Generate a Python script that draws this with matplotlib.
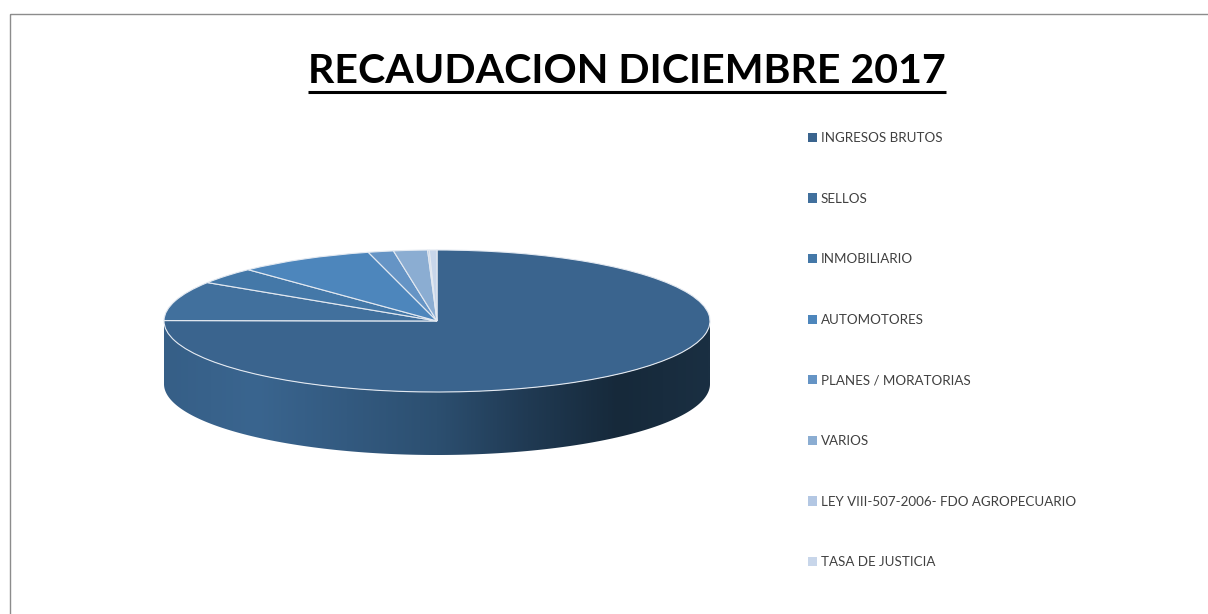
"""Recaudacion diciembre 2017: pie with a fake 3D rim, like the Excel one"""

import matplotlib

matplotlib.use("Agg")
import matplotlib.pyplot as plt
import numpy as np
from matplotlib.colors import LinearSegmentedColormap
from matplotlib.patches import Patch, Polygon, Rectangle

W, H = 1208, 614

title = "RECAUDACION DICIEMBRE 2017"
categories = [
    "INGRESOS BRUTOS",
    "SELLOS",
    "INMOBILIARIO",
    "AUTOMOTORES",
    "PLANES / MORATORIAS",
    "VARIOS",
    "LEY VIII-507-2006- FDO AGROPECUARIO",
    "TASA DE JUSTICIA",
]
values = [75.1, 9.0, 3.75, 8.1, 1.5, 2.0, 0.1, 0.45]
colors = [
    "#3a648e",
    "#41709d",
    "#4478a8",
    "#4d86bc",
    "#6594c5",
    "#8badd2",
    "#b3c7e3",
    "#c8d6ea",
]
rim_colors = ["#365f87", "#3a658f", "#335a80", "#2c4f70", "#203a53", "#16293a", "#1a2f42"]


def main():
    plt.rcParams["font.family"] = ["Lato", "DejaVu Sans"]
    fig = plt.figure(figsize=(W / 100, H / 100), dpi=100, facecolor="white")

    # full size overlay in pixels, for the frame and the title
    bg = fig.add_axes([0, 0, 1, 1])
    bg.set_xlim(0, W)
    bg.set_ylim(H, 0)
    bg.axis("off")
    bg.add_patch(Rectangle((9.5, 13.5), W + 10, H + 10, fill=False, ec="#8c8c8c", lw=1, clip_on=True))
    t = bg.text(627, 71.5, title, fontsize=29.6, fontweight="bold", color="black", ha="center", va="center")
    fig.canvas.draw()
    box = t.get_window_extent().transformed(bg.transData.inverted())
    bg.plot([box.x0, box.x1], [92.3, 92.3], color="black", lw=2.2, solid_capstyle="butt")

    # pie axes: top face is the unit circle squashed, rim hangs under it
    rx, ry, depth = 273, 71, 63
    cx, cy = 437, 321
    left, right = cx - rx, cx + rx
    top, bottom = cy - ry, cy + ry + depth
    ax = fig.add_axes([left / W, 1 - bottom / H, (right - left) / W, (bottom - top) / H])
    d = depth / ry

    theta = np.linspace(np.pi, 2 * np.pi, 300)
    rim_x = np.r_[np.cos(theta), np.cos(theta)[::-1]]
    rim_y = np.r_[np.sin(theta), np.sin(theta)[::-1] - d]
    rim = Polygon(np.c_[rim_x, rim_y], closed=True, fc="none", ec="none", transform=ax.transData)
    ax.add_patch(rim)
    cmap = LinearSegmentedColormap.from_list("rim", rim_colors)
    grad = ax.imshow(
        np.linspace(0, 1, 512).reshape(1, -1),
        extent=(-1, 1, -1 - d, 1),
        aspect="auto",
        cmap=cmap,
        zorder=1,
    )
    grad.set_clip_path(rim)

    wedges, _ = ax.pie(
        values,
        colors=colors,
        startangle=90,
        counterclock=False,
        wedgeprops={"edgecolor": "#e3e9f1", "linewidth": 0.8, "zorder": 2, "clip_on": False},
    )
    ax.set_aspect("auto")
    ax.set_xlim(-1, 1)
    ax.set_ylim(-1 - d, 1)
    ax.axis("off")

    handles = [Patch(facecolor=c, edgecolor="none") for c in colors]
    fig.legend(
        handles,
        categories,
        loc="upper left",
        bbox_to_anchor=(808 / W, 1 - 132 / H),
        borderaxespad=0,
        borderpad=0,
        frameon=False,
        fontsize=9.6,
        labelcolor="#404040",
        handlelength=0.68,
        handleheight=0.68,
        handletextpad=0.26,
        labelspacing=3.645,
    )

    fig.savefig("out.png", dpi=100)


if __name__ == "__main__":
    main()
